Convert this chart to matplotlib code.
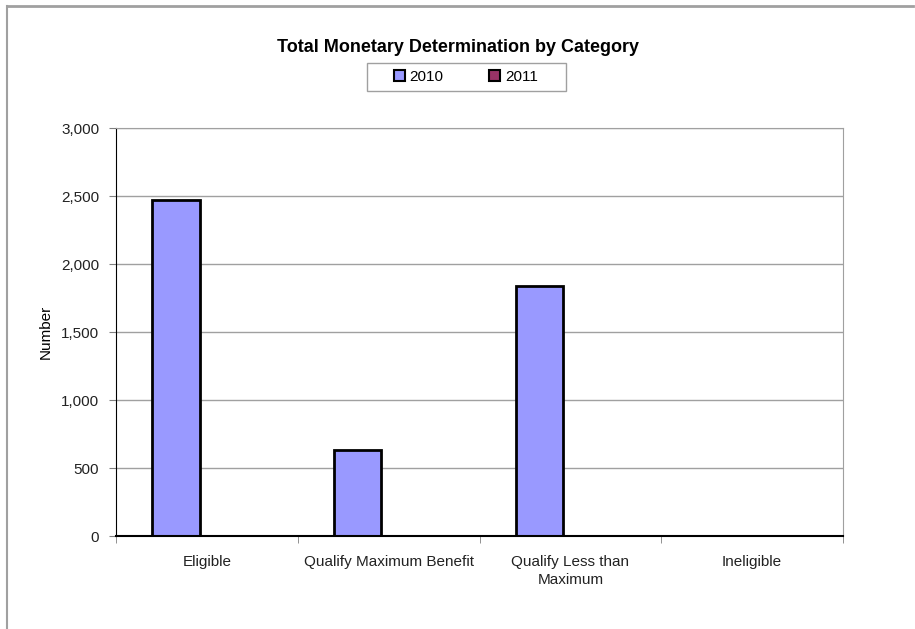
import matplotlib.pyplot as plt
from matplotlib.lines import Line2D
from matplotlib.ticker import FuncFormatter, MultipleLocator
from matplotlib.patches import Patch, Rectangle
import numpy as np

categories = ['Eligible', 'Qualify Maximum Benefit', 'Qualify Less than\nMaximum', 'Ineligible']
series_2010 = [2470, 632, 1835, 0]
series_2011 = [0, 0, 0, 0]
years = ['2010', '2011']
colors = ['#9999FF', '#993366']

plt.rcParams['font.family'] = ['Liberation Sans Narrow', 'Liberation Sans', 'DejaVu Sans']

fig = plt.figure(figsize=(9.15, 6.29), dpi=100)
ax = fig.add_axes([116 / 915, 1 - 536 / 629, 727 / 915, 408 / 629])

x = np.arange(len(categories))
w = 0.26
ax.bar(x - 0.17, series_2010, w, color=colors[0], edgecolor='black', linewidth=2, zorder=3)
ax.bar(x + 0.09, series_2011, w, color=colors[1], edgecolor='black', linewidth=0, zorder=3)

ax.set_xlim(-0.5, 3.5)
ax.set_ylim(0, 3000)
ax.yaxis.set_major_locator(MultipleLocator(500))
ax.yaxis.set_major_formatter(FuncFormatter(lambda v, p: f'{int(v):,}'))
ax.grid(axis='y', color='#a0a0a0', linewidth=1, zorder=0)

ax.set_xticks(x)
ax.set_xticklabels(categories, fontsize=11, color='#222222', linespacing=1.3)
ax.set_xticks(np.arange(-0.5, 3.6, 0.5), minor=True)
ax.tick_params(axis='x', which='major', length=0, pad=14)
ax.tick_params(axis='x', which='minor', length=5, color='#808080')
ax.tick_params(axis='y', length=5, color='#808080', labelsize=11, labelcolor='#222222', pad=7)

ax.spines['left'].set_color('black')
ax.spines['bottom'].set_color('black')
ax.spines['bottom'].set_linewidth(1.5)
ax.spines['top'].set_color('#a0a0a0')
ax.spines['right'].set_color('#a0a0a0')
ax.spines['bottom'].set_zorder(4)

ax.set_ylabel('Number', fontsize=11, labelpad=6)

fig.text(458 / 915, 1 - 47 / 629, 'Total Monetary Determination by Category',
         ha='center', va='center', fontsize=13, fontweight='bold')

handles = [Patch(facecolor=c, edgecolor='black', linewidth=1.5) for c in colors]
leg = fig.legend(handles, years, loc='center', bbox_to_anchor=(466 / 915, 1 - 77 / 629),
                 ncol=2, frameon=False, fontsize=11,
                 handlelength=0.7, handleheight=0.7, handletextpad=0.3,
                 columnspacing=3.0)
# legend box
fig.add_artist(Rectangle((367 / 915, 1 - 91 / 629), 199 / 915, 28 / 629,
                         fill=False, edgecolor='#a0a0a0', linewidth=1))

# outer chart border (top and left visible)
fig.add_artist(Line2D([7 / 915, 913 / 915], [1 - 6 / 629, 1 - 6 / 629], color='#a0a0a0', linewidth=2))
fig.add_artist(Line2D([7 / 915, 7 / 915], [0, 1 - 6 / 629], color='#a0a0a0', linewidth=1.5))

fig.savefig('out.png', dpi=100)
